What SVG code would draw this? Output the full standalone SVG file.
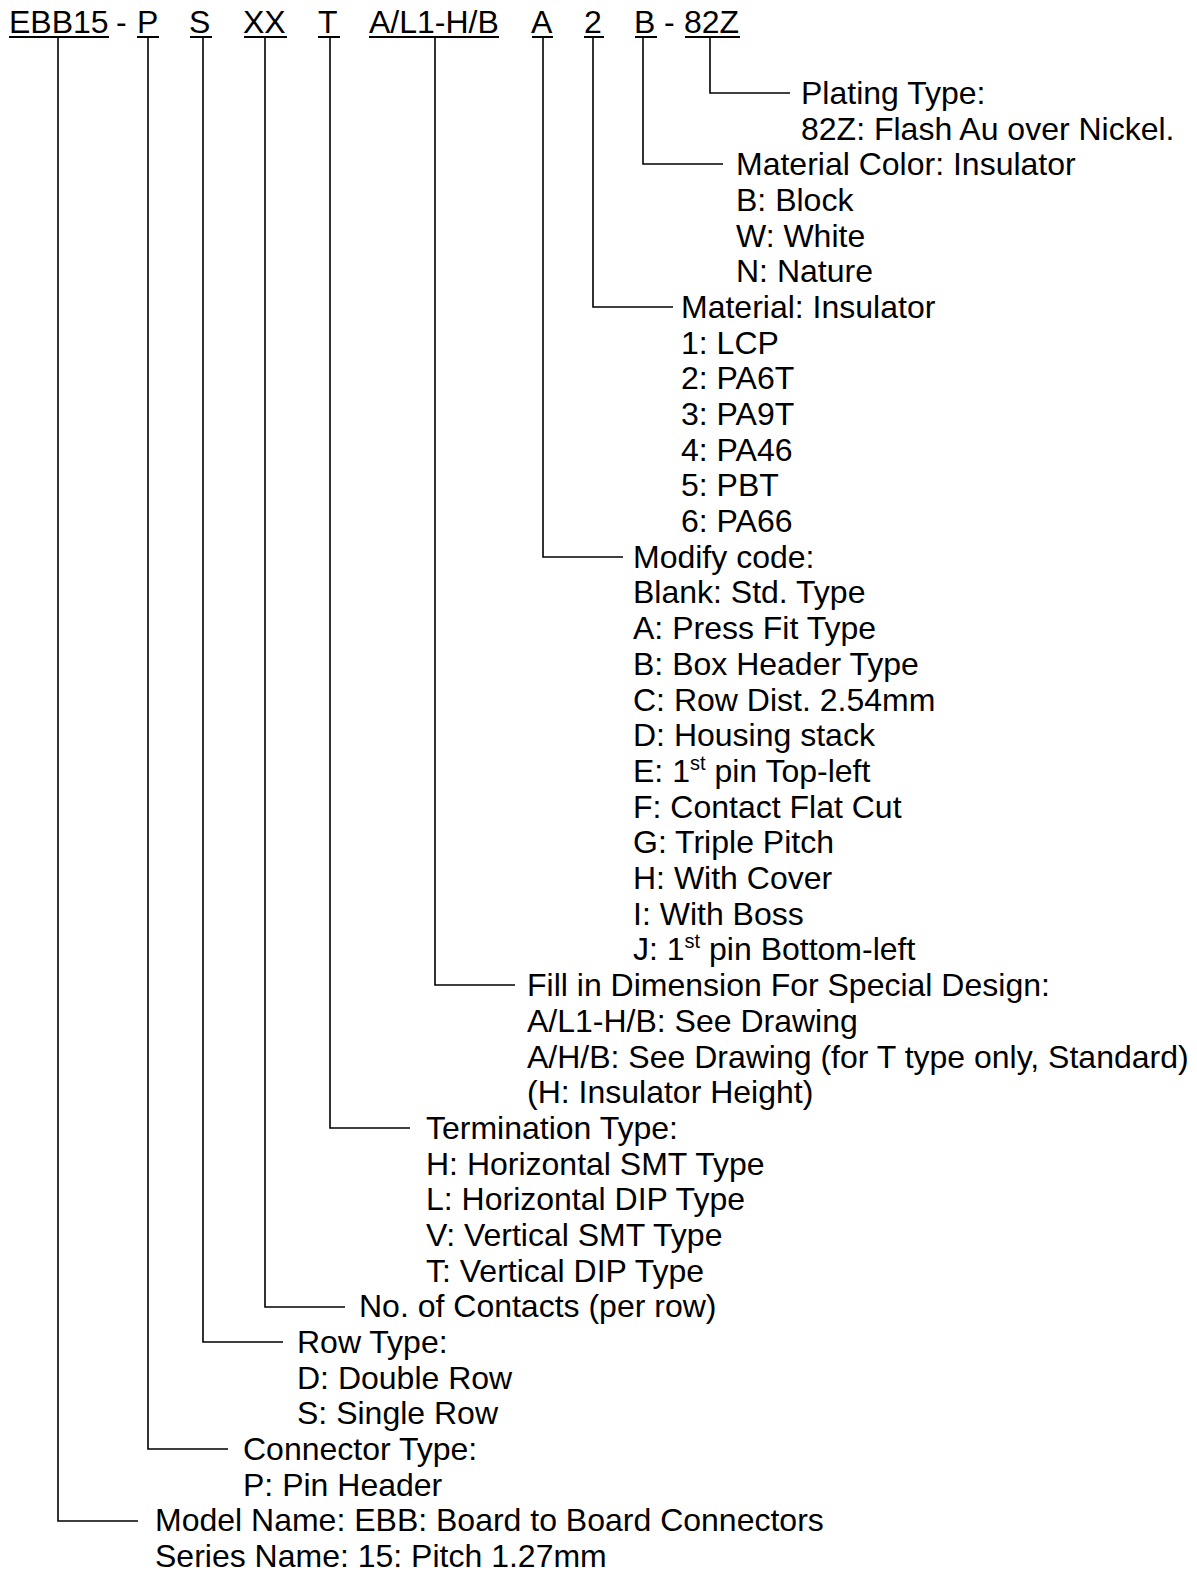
<svg xmlns="http://www.w3.org/2000/svg" width="1197" height="1571" viewBox="0 0 1197 1571">
<style>
text{font-family:"Liberation Sans",Arial,sans-serif;font-size:32px;fill:#000}
.ln{stroke:#000;stroke-width:1.6;fill:none}
.ul{fill:#000}
.sup{font-size:20px}
</style>
<rect width="1197" height="1571" fill="#fff"/>
<g id="header">
<text x="9" y="33">EBB15</text>
<text x="116" y="33">-</text>
<text x="137" y="33">P</text>
<text x="189" y="33">S</text>
<text x="243" y="33">XX</text>
<text x="318" y="33">T</text>
<text x="369" y="33">A/L1-H/B</text>
<text x="531" y="33">A</text>
<text x="584" y="33">2</text>
<text x="634" y="33">B</text>
<text x="664" y="33">-</text>
<text x="684" y="33">82Z</text>
<rect class="ul" x="9" y="36" width="100" height="2"/>
<rect class="ul" x="137" y="36" width="22" height="2"/>
<rect class="ul" x="190" y="36" width="22" height="2"/>
<rect class="ul" x="244" y="36" width="43" height="2"/>
<rect class="ul" x="318" y="36" width="22" height="2"/>
<rect class="ul" x="369" y="36" width="130" height="2"/>
<rect class="ul" x="532" y="36" width="21" height="2"/>
<rect class="ul" x="584" y="36" width="20" height="2"/>
<rect class="ul" x="635" y="36" width="22" height="2"/>
<rect class="ul" x="685" y="36" width="55" height="2"/>
</g>
<g id="connectors">
<polyline class="ln" points="710,38 710,93 790,93"/>
<polyline class="ln" points="643,38 643,164 723,164"/>
<polyline class="ln" points="593,38 593,307 673,307"/>
<polyline class="ln" points="543,38 543,557 623,557"/>
<polyline class="ln" points="435,38 435,985 515,985"/>
<polyline class="ln" points="330,38 330,1128 410,1128"/>
<polyline class="ln" points="265,38 265,1307 345,1307"/>
<polyline class="ln" points="203,38 203,1342 283,1342"/>
<polyline class="ln" points="148,38 148,1449 228,1449"/>
<polyline class="ln" points="58,38 58,1521 138,1521"/>
</g>
<g id="plating">
<text x="801" y="104">Plating Type:</text>
<text x="801" y="140">82Z: Flash Au over Nickel.</text>
</g>
<g id="material-color">
<text x="736" y="175">Material Color: Insulator</text>
<text x="736" y="211">B: Block</text>
<text x="736" y="247">W: White</text>
<text x="736" y="282">N: Nature</text>
</g>
<g id="material">
<text x="681" y="318">Material: Insulator</text>
<text x="681" y="354">1: LCP</text>
<text x="681" y="389">2: PA6T</text>
<text x="681" y="425">3: PA9T</text>
<text x="681" y="461">4: PA46</text>
<text x="681" y="496">5: PBT</text>
<text x="681" y="532">6: PA66</text>
</g>
<g id="modify">
<text x="633" y="568">Modify code:</text>
<text x="633" y="603">Blank: Std. Type</text>
<text x="633" y="639">A: Press Fit Type</text>
<text x="633" y="675">B: Box Header Type</text>
<text x="633" y="711">C: Row Dist. 2.54mm</text>
<text x="633" y="746">D: Housing stack</text>
<text x="633" y="782">E: 1<tspan class="sup" dy="-12">st</tspan><tspan dy="12"> pin Top-left</tspan></text>
<text x="633" y="818">F: Contact Flat Cut</text>
<text x="633" y="853">G: Triple Pitch</text>
<text x="633" y="889">H: With Cover</text>
<text x="633" y="925">I: With Boss</text>
<text x="633" y="960">J: 1<tspan class="sup" dy="-12">st</tspan><tspan dy="12"> pin Bottom-left</tspan></text>
</g>
<g id="dimension">
<text x="527" y="996">Fill in Dimension For Special Design:</text>
<text x="527" y="1032">A/L1-H/B: See Drawing</text>
<text x="527" y="1068">A/H/B: See Drawing (for T type only, Standard)</text>
<text x="527" y="1103">(H: Insulator Height)</text>
</g>
<g id="termination">
<text x="426" y="1139">Termination Type:</text>
<text x="426" y="1175">H: Horizontal SMT Type</text>
<text x="426" y="1210">L: Horizontal DIP Type</text>
<text x="426" y="1246">V: Vertical SMT Type</text>
<text x="426" y="1282">T: Vertical DIP Type</text>
</g>
<g id="contacts">
<text x="359" y="1317">No. of Contacts (per row)</text>
</g>
<g id="row">
<text x="297" y="1353">Row Type:</text>
<text x="297" y="1389">D: Double Row</text>
<text x="297" y="1424">S: Single Row</text>
</g>
<g id="connector-type">
<text x="243" y="1460">Connector Type:</text>
<text x="243" y="1496">P: Pin Header</text>
</g>
<g id="model">
<text x="155" y="1531">Model Name: EBB: Board to Board Connectors</text>
<text x="155" y="1567">Series Name: 15: Pitch 1.27mm</text>
</g>
</svg>
